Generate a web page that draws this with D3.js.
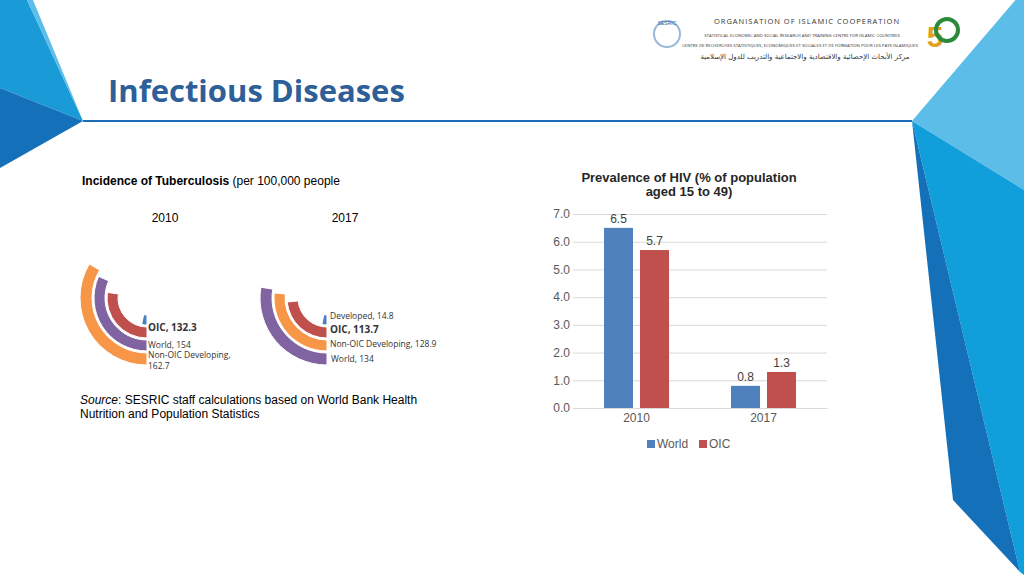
<!DOCTYPE html><html><head><meta charset="utf-8">
<script src="https://cdn.jsdelivr.net/npm/d3@7"></script>
<style>body{margin:0;background:#fff}svg{display:block;font-family:Arial,"Liberation Sans",sans-serif}</style></head><body>
<svg id="c" width="1024" height="575"></svg>
<script>
const tbYears=["2010","2017"];
const tbSeries=[
 [{name:"Developed",value:15.5,color:"#4a7fc0"},{name:"OIC",value:132.3,color:"#c0504d"},{name:"World",value:154,color:"#8064a2"},{name:"Non-OIC Developing",value:162.7,color:"#f79646"}],
 [{name:"Developed",value:14.8,color:"#4a7fc0"},{name:"OIC",value:113.7,color:"#c0504d"},{name:"Non-OIC Developing",value:128.9,color:"#f79646"},{name:"World",value:134,color:"#8064a2"}]
];
const hivCats=["2010","2017"];
const hivSeries=["World","OIC"];
const hivValues=[[6.5,0.8],[5.7,1.3]];
const hivColors=["#4f81bd","#c0504d"];
const yTicks=[0,1,2,3,4,5,6,7];

const svg=d3.select("#c");
const poly=(pts,f)=>svg.append("polygon").attr("points",pts.map(p=>p.join(",")).join(" ")).attr("fill",f);
poly([[0,0],[27,0],[83,121],[0,88]],"#1a9ad6");
poly([[27,0],[33,0],[83,121]],"#5bbde8");
poly([[0,88],[83,121],[0,168]],"#1470b8");
poly([[912,121],[1024,-10],[1024,190]],"#5bbde8");
poly([[912,121],[1024,190],[1024,575],[1020,572]],"#109fdb");
poly([[912,121],[953,500],[1020,572]],"#1470b8");
svg.append("line").attr("x1",83).attr("x2",912).attr("y1",121).attr("y2",121).attr("stroke","#1a6fb8").attr("stroke-width",2);
svg.append("text").attr("x",108).attr("y",102).attr("font-size",31).attr("font-weight","bold").attr("fill","#2e5f99").attr("font-family","Open Sans, sans-serif").text("Infectious Diseases");
const h=svg.append("g").attr("font-family","Open Sans, sans-serif").attr("text-anchor","middle").attr("fill","#333");
h.append("text").attr("x",807).attr("y",24).attr("font-size",7.5).attr("letter-spacing",1).text("ORGANISATION OF ISLAMIC COOPERATION");
h.append("text").attr("x",802).attr("y",37).attr("font-size",4.3).text("STATISTICAL ECONOMIC AND SOCIAL RESEARCH AND TRAINING CENTRE FOR ISLAMIC COUNTRIES");
h.append("text").attr("x",800).attr("y",47).attr("font-size",4.3).text("CENTRE DE RECHERCHES STATISTIQUES, ECONOMIQUES ET SOCIALES ET DE FORMATION POUR LES PAYS ISLAMIQUES");
h.append("text").attr("x",805).attr("y",59).attr("font-size",7).attr("font-family","DejaVu Sans").text("مركز الأبحاث الإحصائية والاقتصادية والاجتماعية والتدريب للدول الإسلامية");
svg.append("circle").attr("cx",667).attr("cy",34).attr("r",13).attr("fill","none").attr("stroke","#9ab8d8").attr("stroke-width",2);
svg.append("text").attr("x",667).attr("y",25).attr("font-size",5).attr("text-anchor","middle").attr("fill","#2e5f99").text("SESRIC");
svg.append("text").attr("x",935).attr("y",47).attr("font-size",30).attr("font-weight","bold").attr("text-anchor","middle").attr("fill","#e0a020").text("5");
svg.append("circle").attr("cx",947).attr("cy",30).attr("r",11).attr("fill","none").attr("stroke","#2a8a3a").attr("stroke-width",4);

const tt=svg.append("text").attr("x",82).attr("y",185).attr("font-size",12).attr("fill","#000");
tt.append("tspan").attr("font-weight","bold").text("Incidence of Tuberculosis");
tt.append("tspan").text(" (per 100,000 people");
const centers=[147,327];
const ang=d3.scaleLinear().domain([0,243]).range([Math.PI,2*Math.PI]);
const rings=[[17,27],[29,40],[42,53],[55,67]];
tbYears.forEach((yr,i)=>{
  const g=svg.append("g").attr("transform",`translate(${centers[i]},298)`);
  svg.append("text").attr("x",centers[i]+18).attr("y",222).attr("font-size",12).attr("text-anchor","middle").attr("font-family","Liberation Sans").text(yr);
  tbSeries[i].forEach((d,j)=>{
    const arc=d3.arc().innerRadius(rings[j][0]).outerRadius(rings[j][1]).startAngle(ang(0)).endAngle(ang(d.value));
    g.append("path").attr("d",arc()).attr("fill",d.color).attr("stroke","#fff").attr("stroke-width",1);
  });
});
const lab=(x,y,t,b)=>svg.append("text").attr("x",x).attr("y",y).attr("font-size",b?10:8.5).attr("font-weight",b?"bold":"normal").attr("font-family","Open Sans, sans-serif").attr("fill","#333").text(t);
const s0=tbSeries[0],s1=tbSeries[1];
lab(148,331,`${s0[1].name}, ${s0[1].value}`,true);
lab(148,348,`${s0[2].name}, ${s0[2].value}`);
lab(148,358,`${s0[3].name},`);
lab(148,369,`${s0[3].value}`);
lab(330,319,`${s1[0].name}, ${s1[0].value}`);
lab(330,333,`${s1[1].name}, ${s1[1].value}`,true);
lab(330,347,`${s1[2].name}, ${s1[2].value}`);
lab(331,362,`${s1[3].name}, ${s1[3].value}`);
const src=svg.append("text").attr("font-size",12).attr("fill","#000");
src.append("tspan").attr("x",80).attr("y",404).attr("font-style","italic").text("Source");
src.append("tspan").text(": SESRIC staff calculations based on World Bank Health");
svg.append("text").attr("x",80).attr("y",418).attr("font-size",12).text("Nutrition and Population Statistics");

svg.append("text").attr("x",689).attr("y",182).attr("font-size",13).attr("font-weight","bold").attr("text-anchor","middle").attr("fill","#262626").text("Prevalence of HIV (% of population");
svg.append("text").attr("x",689).attr("y",196).attr("font-size",13).attr("font-weight","bold").attr("text-anchor","middle").attr("fill","#262626").text("aged 15 to 49)");
const x0=d3.scaleBand().domain(hivCats).range([573,827]);
const x1=d3.scaleBand().domain(hivSeries).range([31,96]).paddingInner(0.194);
const y=d3.scaleLinear().domain([0,7]).range([408,214]);
const yg=svg.append("g").attr("transform","translate(573,0)").call(d3.axisLeft(y).tickValues(yTicks).tickFormat(d3.format(".1f")).tickSize(-254).tickPadding(3));
yg.select(".domain").remove();
yg.selectAll("line").attr("stroke","#d9d9d9");
yg.selectAll("text").attr("font-size",12).attr("fill","#595959").attr("font-family","Liberation Sans");
hivSeries.forEach((s,si)=>hivCats.forEach((c,ci)=>{
  const v=hivValues[si][ci];
  svg.append("rect").attr("x",x0(c)+x1(s)).attr("y",y(v)).attr("width",x1.bandwidth()).attr("height",y(0)-y(v)).attr("fill",hivColors[si]);
  svg.append("text").attr("x",x0(c)+x1(s)+x1.bandwidth()/2).attr("y",y(v)-5).attr("text-anchor","middle").attr("font-size",12).attr("fill","#404040").text(v.toFixed(1));
}));
const xg=svg.append("g").attr("transform","translate(0,408)").call(d3.axisBottom(x0).tickSize(0).tickPadding(5));
xg.select(".domain").attr("stroke","#d9d9d9");
xg.selectAll("text").attr("font-size",12).attr("fill","#595959").attr("font-family","Liberation Sans");
[["World",647],["OIC",699]].forEach(([n,lx],i)=>{
  svg.append("rect").attr("x",lx).attr("y",440).attr("width",8).attr("height",8).attr("fill",hivColors[i]);
  svg.append("text").attr("x",lx+10).attr("y",448).attr("font-size",12).attr("fill","#595959").text(n);
});
</script></body></html>
